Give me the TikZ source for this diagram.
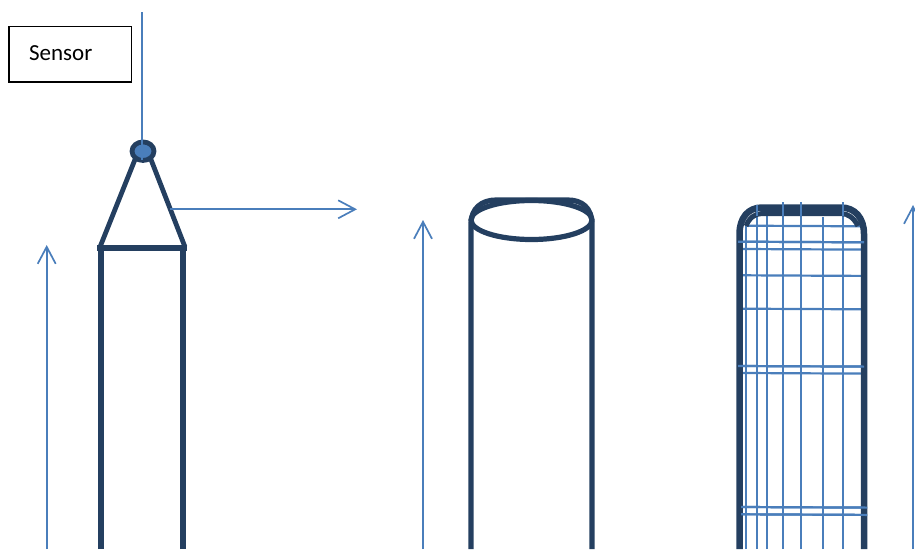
\documentclass[tikz,border=0pt]{standalone}
\usepackage{fontspec}
\setmainfont{Carlito}
\usetikzlibrary{arrows.meta,shapes.geometric}
\definecolor{darkblue}{HTML}{243F60}
\definecolor{wireblue}{HTML}{4A7EBB}
\tikzset{
  body/.style={draw=darkblue,line width=5.2pt},
  thin wire/.style={draw=wireblue,line width=1.7pt},
  grid wire/.style={draw=wireblue,line width=2.2pt},
  measure/.style={draw=wireblue,line width=1.7pt,-{Straight Barb[length=17pt,width=18pt,line width=1.7pt]}},
}
\begin{document}
\begin{tikzpicture}[x=1pt,y=-1pt]
\useasboundingbox (0,0) rectangle (915,549);
\clip (0,0) rectangle (915,549);
% Sensor label
\node[draw=black,line width=1.5pt,minimum width=122.5pt,minimum height=55.5pt,inner sep=0pt,font=\fontsize{23}{27}\selectfont] (sensor) at (70,54) {\hspace*{-18.5pt}\raisebox{2.5pt}{Sensor}};
% Left tower
\coordinate (ll) at (101,549);
\coordinate (lr) at (183,549);
\coordinate (tl) at (101,247);
\coordinate (tr) at (183,247);
\draw[body] (ll) -- (tl);
\draw[body] (lr) -- (tr);
\draw[body,line width=6pt] (97,247.5) -- (187,247.5);
\draw[body,line width=4.8pt] (100,247) -- (136,157);
\draw[body,line width=4.8pt] (185,247) -- (150,157);
\node[draw=darkblue,line width=4.8pt,fill=wireblue,ellipse,minimum width=22pt,minimum height=18.5pt,inner sep=0pt] (tip) at (143,151.2) {};
\coordinate (wt) at (142.3,12);
\coordinate (wb) at (142.3,160);
\draw[thin wire] (wt) -- (wb);
% horizontal arrow
\coordinate (ha) at (170,209.3);
\coordinate (hb) at (357,209.3);
\draw[measure] (ha) -- (hb);
% vertical arrows
\coordinate (a1) at (46.7,549);
\coordinate (a1t) at (46.7,245);
\draw[measure] (a1) -- (a1t);
\coordinate (a2) at (423,549);
\coordinate (a2t) at (423,220);
\draw[measure] (a2) -- (a2t);
\coordinate (a3) at (913,549);
\coordinate (a3t) at (913,205);
\draw[measure] (a3) -- (a3t);
% Middle cylinder
\draw[body,line join=round] (471,549) -- (471,224) .. controls (471,208) and (482,200) .. (496,200) -- (568,200) .. controls (582,200) and (592,208) .. (592,224) -- (592,549);
\draw[body] (531.5,220) ellipse (60.5 and 19.5);
% Right cage
\foreach \x/\t in {745.7/223,757.3/205,767/215,783/202,801.3/202,822.7/217,843/202}{
  \draw[grid wire] (\x,549) -- (\x,\t);
}
\foreach \y/\a/\b in {225.7/746/860,241.7/738/864,249/742/862,275.3/742/862,308.7/742/862,366/738/864,373/742/862,507/741/867,514.3/741/867}{
  \draw[grid wire] (\a,\y) -- (\b,\y+0.6);
}
\draw[draw=darkblue,line width=6.5pt] (739.5,549) -- (739.5,234) .. controls (739.5,218) and (748,207.5) .. (762,207.5) -- (841,207.5) .. controls (855,207.5) and (864,218) .. (864,234) -- (864,549);
\draw[draw=darkblue,line width=5pt] (746,226) .. controls (749,218) and (755,213.5) .. (762,213.5) -- (841,213.5) .. controls (848,213.5) and (854,218) .. (858,226);
% wires crossing the frame on top
\foreach \x/\t in {757.3/205,783/202,801.3/202,843/202}{
  \draw[grid wire] (\x,216) -- (\x,\t);
}
\foreach \y/\a/\b in {241.7/738/864,366/738/864,507/741/867,514.3/741/867}{
  \draw[grid wire] (\a,\y) -- (\b,\y+0.6);
}
\end{tikzpicture}
\end{document}
